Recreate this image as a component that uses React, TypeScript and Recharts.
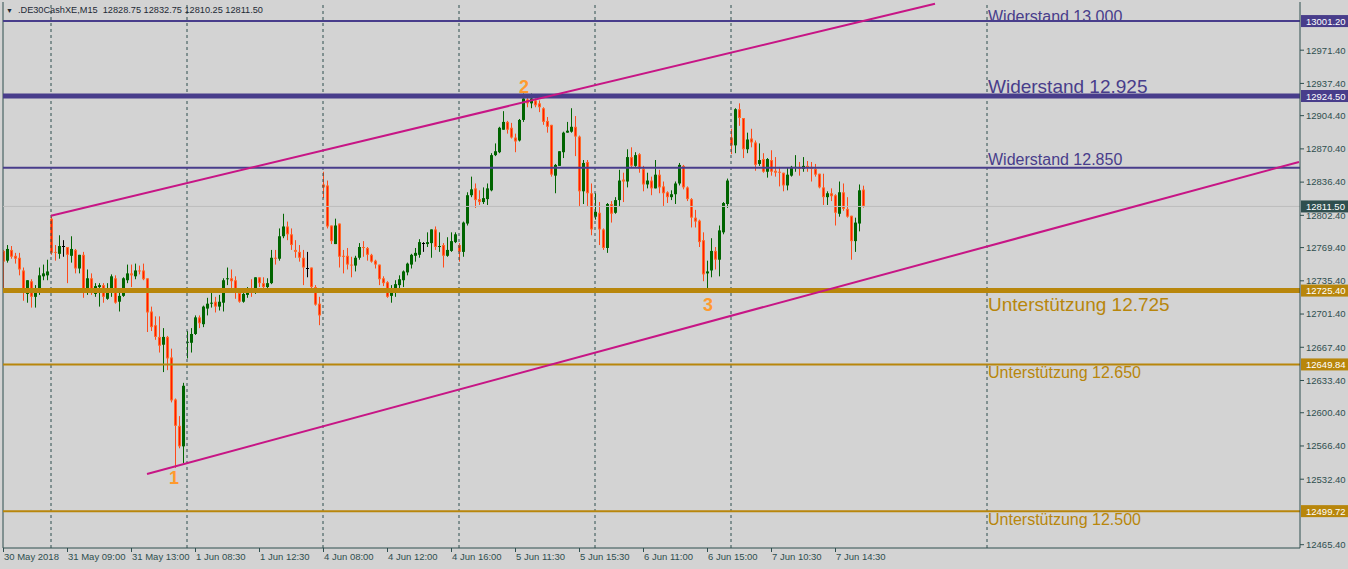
import React from 'react';
import { ComposedChart, Bar, XAxis, YAxis, ReferenceLine, ReferenceDot } from 'recharts';

// M15 bars, index 0 = 31 May 08:00, 34 bars per session
const firstIdx = -12;

const opens = [
  12766, 12756, 12767, 12761, 12759, 12746, 12722, 12735, 12719, 12727, 12740, 12741,
  12799, 12765, 12763, 12771, 12770, 12761, 12767, 12748, 12762, 12727, 12738, 12722, 12729, 12731, 12717, 12724, 12738, 12714, 12720, 12736, 12743, 12740, 12746, 12746, 12738, 12704, 12690, 12678, 12670, 12678, 12657, 12614, 12587, 12566,
  12672, 12672, 12681, 12698, 12691, 12707, 12712, 12714, 12709, 12713, 12737, 12738, 12736, 12723, 12714, 12721, 12726, 12723, 12739, 12733, 12729, 12733, 12759, 12758, 12781, 12791, 12783, 12767, 12765, 12759, 12749, 12749, 12729, 12712,
  12834, 12833, 12792, 12773, 12794, 12761, 12761, 12752, 12751, 12759, 12770, 12769, 12762, 12756, 12752, 12738, 12734, 12720, 12726, 12731, 12736, 12744, 12752, 12761, 12762, 12774, 12773, 12774, 12788, 12770, 12772, 12761, 12766, 12775,
  12772, 12765, 12794, 12823, 12830, 12819, 12816, 12819, 12828, 12864, 12867, 12890, 12898, 12892, 12882, 12879, 12900, 12921, 12917, 12920, 12917, 12912, 12899, 12895, 12843, 12853, 12867, 12887, 12888, 12893, 12883, 12827, 12857, 12825,
  12801, 12805, 12788, 12769, 12814, 12805, 12818, 12839, 12837, 12862, 12853, 12865, 12850, 12834, 12838, 12830, 12844, 12832, 12826, 12821, 12824, 12835, 12853, 12831, 12819, 12800, 12797, 12777, 12743, 12746, 12766, 12757, 12785, 12814,
  12882, 12874, 12911, 12902, 12870, 12881, 12877, 12855, 12860, 12847, 12859, 12848, 12847, 12846, 12833, 12843, 12851, 12852, 12850, 12853, 12852, 12850, 12845, 12831, 12821, 12825, 12823, 12804, 12826, 12809, 12802, 12776, 12794, 12828.75,
];
const highs = [
  12767, 12772, 12771, 12764, 12764, 12749, 12736, 12737, 12731, 12749, 12752, 12757,
  12803, 12772, 12782, 12777, 12770, 12781, 12768, 12762, 12765, 12747, 12743, 12733, 12733, 12733, 12733, 12742, 12741, 12727, 12739, 12752, 12752, 12753, 12751, 12753, 12738, 12709, 12699, 12699, 12687, 12679, 12666, 12615, 12597, 12631,
  12684, 12687, 12700, 12700, 12710, 12718, 12723, 12719, 12721, 12738, 12749, 12747, 12740, 12724, 12727, 12729, 12737, 12739, 12739, 12739, 12738, 12767, 12767, 12789, 12804, 12796, 12789, 12777, 12772, 12767, 12765, 12749, 12731, 12719,
  12847, 12838, 12792, 12799, 12794, 12767, 12769, 12760, 12761, 12774, 12776, 12770, 12763, 12757, 12752, 12740, 12735, 12731, 12736, 12741, 12746, 12754, 12763, 12769, 12778, 12775, 12785, 12788, 12791, 12785, 12774, 12780, 12785, 12785,
  12774, 12796, 12826, 12842, 12835, 12828, 12831, 12835, 12866, 12876, 12893, 12909, 12899, 12897, 12886, 12901, 12927, 12925, 12927, 12922, 12920, 12913, 12903, 12895, 12855, 12868, 12888, 12898, 12912, 12904, 12884, 12859, 12859, 12835,
  12825, 12816, 12789, 12815, 12817, 12821, 12849, 12846, 12870, 12872, 12867, 12866, 12853, 12846, 12842, 12859, 12849, 12837, 12827, 12828, 12837, 12856, 12854, 12832, 12820, 12808, 12798, 12785, 12756, 12779, 12770, 12792, 12816, 12840,
  12891, 12912, 12917, 12902, 12887, 12891, 12879, 12876, 12866, 12861, 12869, 12862, 12852, 12846, 12851, 12853, 12864, 12857, 12862, 12858, 12857, 12855, 12845, 12845, 12827, 12830, 12824, 12837, 12835, 12821, 12802, 12800, 12834, 12832.75,
];
const lows = [
  12724, 12754, 12758, 12753, 12741, 12715, 12713, 12708, 12708, 12721, 12736, 12736,
  12762, 12756, 12758, 12760, 12733, 12754, 12743, 12743, 12718, 12721, 12721, 12719, 12709, 12713, 12716, 12719, 12712, 12704, 12719, 12733, 12729, 12737, 12742, 12736, 12683, 12684, 12675, 12662, 12642, 12644, 12611, 12544, 12564, 12549,
  12656, 12662, 12680, 12687, 12688, 12700, 12708, 12703, 12705, 12704, 12731, 12728, 12717, 12713, 12713, 12718, 12719, 12722, 12729, 12723, 12723, 12732, 12752, 12756, 12779, 12777, 12767, 12759, 12755, 12731, 12739, 12726, 12710, 12690,
  12820, 12789, 12773, 12773, 12749, 12743, 12747, 12739, 12745, 12757, 12760, 12756, 12754, 12748, 12731, 12730, 12718, 12713, 12719, 12724, 12729, 12741, 12748, 12755, 12759, 12765, 12770, 12759, 12767, 12765, 12749, 12760, 12765, 12774,
  12755, 12760, 12792, 12821, 12810, 12813, 12814, 12813, 12827, 12863, 12866, 12890, 12886, 12881, 12867, 12878, 12898, 12913, 12912, 12913, 12908, 12895, 12887, 12842, 12825, 12853, 12861, 12887, 12887, 12863, 12811, 12814, 12812, 12782,
  12798, 12772, 12767, 12764, 12795, 12804, 12811, 12816, 12831, 12851, 12852, 12846, 12827, 12830, 12823, 12830, 12825, 12812, 12815, 12818, 12814, 12833, 12829, 12817, 12790, 12790, 12770, 12735, 12727, 12739, 12747, 12740, 12783, 12810,
  12865, 12866, 12894, 12861, 12866, 12872, 12848, 12853, 12846, 12841, 12843, 12842, 12832, 12827, 12828, 12842, 12847, 12843, 12847, 12847, 12837, 12842, 12830, 12813, 12813, 12817, 12792, 12801, 12807, 12800, 12757, 12765, 12786, 12810.25,
];
const closes = [
  12755, 12768, 12760, 12758, 12747, 12723, 12736, 12719, 12727, 12741, 12743, 12745,
  12764, 12764, 12771, 12771, 12762, 12768, 12748, 12762, 12727, 12738, 12723, 12730, 12731, 12719, 12727, 12740, 12713, 12720, 12738, 12743, 12741, 12746, 12745, 12737, 12703, 12688, 12678, 12669, 12678, 12656, 12613, 12587, 12566, 12628,
  12673, 12681, 12698, 12692, 12709, 12712, 12713, 12709, 12714, 12736, 12738, 12735, 12725, 12714, 12722, 12725, 12723, 12739, 12733, 12729, 12733, 12759, 12758, 12781, 12791, 12783, 12772, 12765, 12759, 12749, 12749, 12729, 12711, 12700,
  12831, 12791, 12776, 12792, 12760, 12760, 12752, 12751, 12759, 12770, 12769, 12762, 12755, 12752, 12737, 12733, 12719, 12727, 12732, 12737, 12745, 12753, 12762, 12764, 12775, 12774, 12775, 12788, 12770, 12771, 12761, 12767, 12776, 12783,
  12765, 12795, 12823, 12829, 12818, 12816, 12820, 12830, 12864, 12868, 12892, 12898, 12890, 12882, 12878, 12900, 12922, 12917, 12922, 12915, 12913, 12898, 12893, 12844, 12854, 12868, 12887, 12889, 12893, 12883, 12827, 12856, 12825, 12788,
  12806, 12788, 12769, 12814, 12804, 12818, 12838, 12837, 12862, 12853, 12864, 12850, 12834, 12838, 12830, 12844, 12831, 12825, 12821, 12824, 12835, 12854, 12831, 12819, 12800, 12796, 12775, 12742, 12745, 12766, 12757, 12787, 12815, 12838,
  12874, 12911, 12902, 12870, 12880, 12877, 12854, 12859, 12847, 12860, 12847, 12846, 12846, 12833, 12844, 12852, 12852, 12850, 12853, 12851, 12850, 12844, 12831, 12821, 12825, 12822, 12805, 12826, 12809, 12801, 12776, 12795, 12828, 12811.5,
];

const tickIdx = [-12, 4, 20, 36, 52, 68, 84, 100, 116, 132, 148, 164, 180, 196];
const tickLabels = [
  '30 May 2018', '31 May 09:00', '31 May 13:00', '1 Jun 08:30', '1 Jun 12:30', '4 Jun 08:00', '4 Jun 12:00',
  '4 Jun 16:00', '5 Jun 11:30', '5 Jun 15:30', '6 Jun 11:00', '6 Jun 15:00', '7 Jun 10:30', '7 Jun 14:30',
];
const separators = [0, 34, 68, 102, 136, 170, 234];
// 13005.40 and 12499.40 sit under the price tags in the original, so they are left out
const priceTicks = [
  12971.4, 12937.4, 12904.4, 12870.4, 12836.4, 12802.4, 12769.4, 12735.4, 12701.4,
  12667.4, 12633.4, 12600.4, 12566.4, 12532.4, 12465.4,
];

const resistLevels = [13001.2, 12924.5, 12851];
const resistNames = ['Widerstand 13.000', 'Widerstand 12.925', 'Widerstand 12.850'];
const supportLevels = [12725.4, 12649.84, 12499.72];
const supportNames = ['Unterstützung 12.725', 'Unterstützung 12.650', 'Unterstützung 12.500'];
const bidPrice = 12811.5;

// channel lines: [startIdx, startPrice, endIdx, endPrice]
const upperChannel = [0, 12802, 221, 13019];
const lowerChannel = [24, 12537.7, 312, 12857];

const waveIdx = [30.75, 118.25, 164.25];
const wavePrice = [12533.6, 12933.7, 12710.6];
const waveNames = ['1', '2', '3'];
const noteIdx = 234.25;

const BG = '#D3D3D3';
const AXIS = '#2F4F4F';
const PURPLE = '#483D8B';
const GOLD = '#B8860B';
const MAGENTA = '#C71585';
const FONT = '"Liberation Sans", Arial, sans-serif';

const rows = opens.map((o, i) => ({
  k: firstIdx + i,
  o,
  h: highs[i],
  l: lows[i],
  c: closes[i],
  range: [lows[i], highs[i]],
}));

const Candle = (props: any) => {
  const { x, y, width, height, payload } = props;
  if (x == null || y == null) return null;
  const { o, h, l, c } = payload;
  const top = Math.min(y, y + height);
  const bot = Math.max(y, y + height);
  const per = h === l ? 0 : (bot - top) / (h - l);
  const py = (v: number) => top + (h - v) * per;
  const cx = Math.round(x + width / 2);
  const bull = c > o;
  const doji = c === o;
  const wick = doji ? '#000000' : bull ? '#006400' : '#FF4A1A';
  const bTop = py(Math.max(o, c));
  const bBot = py(Math.min(o, c));
  const bh = Math.max(1, bBot - bTop);
  return (
    <g>
      <line x1={cx + 0.5} x2={cx + 0.5} y1={top} y2={bot} stroke={wick} strokeWidth={1} />
      {doji ? (
        <rect x={cx - 1} y={Math.round(bTop)} width={3} height={1} fill="#000000" />
      ) : bull ? (
        <rect x={cx - 1} y={bTop} width={3} height={bh} fill="#006400" />
      ) : (
        <g>
          <rect x={cx - 1} y={bTop} width={3} height={bh} fill="#FF6A2A" />
          <rect x={cx} y={bTop + 1} width={1} height={Math.max(0, bh - 2)} fill="#FF1A00" />
        </g>
      )}
    </g>
  );
};

const TimeTick = (props: any) => {
  const { x, y, payload } = props;
  const i = tickIdx.indexOf(payload.value);
  return (
    <g>
      <line x1={x + 0.5} x2={x + 0.5} y1={y} y2={y + 4} stroke={AXIS} />
      <text x={x + 1} y={y + 12} fill={AXIS} fontSize={9.5} fontFamily={FONT} textAnchor="start">
        {i >= 0 ? tickLabels[i] : ''}
      </text>
    </g>
  );
};

const AxisTag = (props: any) => {
  const { viewBox, fill, value } = props;
  if (!viewBox) return null;
  const yy = viewBox.y;
  const xr = viewBox.x + viewBox.width;
  return (
    <g>
      <rect x={xr + 1} y={yy - 6} width={47} height={12} fill={fill} />
      <text x={xr + 6} y={yy + 3.5} fill="#FFFFFF" fontSize={9.5} fontFamily={FONT}>
        {value.toFixed(2)}
      </text>
    </g>
  );
};

const noteShape = (text: string, color: string, size: number, dy: number) => (p: any) => (
  <text x={p.cx} y={p.cy + dy} fill={color} fontSize={size} fontFamily={FONT}>
    {text}
  </text>
);

const waveShape = (text: string) => (p: any) => (
  <text
    x={p.cx}
    y={p.cy + 6}
    fill="#FF9A2E"
    fontSize={18}
    fontWeight="bold"
    fontFamily={FONT}
    textAnchor="middle"
  >
    {text}
  </text>
);

const resistWidth = [2, 5, 2];
const resistSize = [16, 19, 16];
const resistDy = [1, -3, -3];
const resistTag = [true, true, false];
const supportWidth = [5, 2, 2];
const supportSize = [19, 16, 16];
const supportDy = [20, 14, 14];

export default function App() {
  return (
    <div
      style={{
        position: 'absolute',
        left: 0,
        top: 0,
        width: 1348,
        height: 569,
        background: BG,
        overflow: 'hidden',
      }}
    >
      <ComposedChart width={1348} height={569} data={rows} margin={{ top: 2, right: 0, bottom: 0, left: 3 }}>
        <XAxis
          dataKey="k"
          type="number"
          domain={[-12, 312.25]}
          allowDataOverflow
          ticks={tickIdx}
          interval={0}
          tick={<TimeTick />}
          tickLine={false}
          tickSize={0}
          tickMargin={0}
          height={21}
          axisLine={{ stroke: AXIS }}
        />
        <YAxis
          orientation="right"
          type="number"
          width={48}
          domain={[12462, 13020.7]}
          allowDataOverflow
          ticks={priceTicks}
          interval={0}
          tickFormatter={(v: number) => v.toFixed(2)}
          tick={{ fill: AXIS, fontSize: 9.5, fontFamily: FONT }}
          tickSize={4}
          tickMargin={2}
          axisLine={{ stroke: AXIS }}
          tickLine={{ stroke: AXIS }}
        />
        <ReferenceLine x={-12} stroke={AXIS} ifOverflow="visible" />
        {separators.map((s) => (
          <ReferenceLine key={`sep${s}`} x={s} stroke={AXIS} strokeDasharray="3 3" />
        ))}
        <ReferenceLine
          y={bidPrice}
          stroke="#BDBDBD"
          label={(p: any) => <AxisTag {...p} fill={AXIS} value={bidPrice} />}
        />
        <Bar dataKey="range" barSize={3} shape={(p: any) => <Candle {...p} />} isAnimationActive={false} />
        {resistLevels.map((v, i) => (
          <ReferenceLine
            key={`r${i}`}
            y={v}
            stroke={PURPLE}
            strokeWidth={resistWidth[i]}
            label={resistTag[i] ? (p: any) => <AxisTag {...p} fill={PURPLE} value={v} /> : undefined}
          />
        ))}
        {supportLevels.map((v, i) => (
          <ReferenceLine
            key={`s${i}`}
            y={v}
            stroke={GOLD}
            strokeWidth={supportWidth[i]}
            label={(p: any) => <AxisTag {...p} fill={GOLD} value={v} />}
          />
        ))}
        <ReferenceLine
          segment={[
            { x: upperChannel[0], y: upperChannel[1] },
            { x: upperChannel[2], y: upperChannel[3] },
          ]}
          stroke={MAGENTA}
          strokeWidth={2}
          ifOverflow="visible"
        />
        <ReferenceLine
          segment={[
            { x: lowerChannel[0], y: lowerChannel[1] },
            { x: lowerChannel[2], y: lowerChannel[3] },
          ]}
          stroke={MAGENTA}
          strokeWidth={2}
          ifOverflow="visible"
        />
        {resistLevels.map((v, i) => (
          <ReferenceDot
            key={`rn${i}`}
            x={noteIdx}
            y={v}
            r={0}
            ifOverflow="visible"
            shape={noteShape(resistNames[i], PURPLE, resistSize[i], resistDy[i])}
          />
        ))}
        {supportLevels.map((v, i) => (
          <ReferenceDot
            key={`sn${i}`}
            x={noteIdx}
            y={v}
            r={0}
            ifOverflow="visible"
            shape={noteShape(supportNames[i], GOLD, supportSize[i], supportDy[i])}
          />
        ))}
        {waveNames.map((w, i) => (
          <ReferenceDot
            key={`w${i}`}
            x={waveIdx[i]}
            y={wavePrice[i]}
            r={0}
            ifOverflow="visible"
            shape={waveShape(w)}
          />
        ))}
      </ComposedChart>
      <div
        style={{
          position: 'absolute',
          left: 6,
          top: 4,
          fontFamily: FONT,
          fontSize: 9.2,
          color: '#1E2A36',
          whiteSpace: 'pre',
          lineHeight: '12px',
        }}
      >
        <span style={{ fontSize: 7, marginRight: 5 }}>▼</span>
        {'.DE30CashXE,M15  12828.75 12832.75 12810.25 12811.50'}
      </div>
    </div>
  );
}
